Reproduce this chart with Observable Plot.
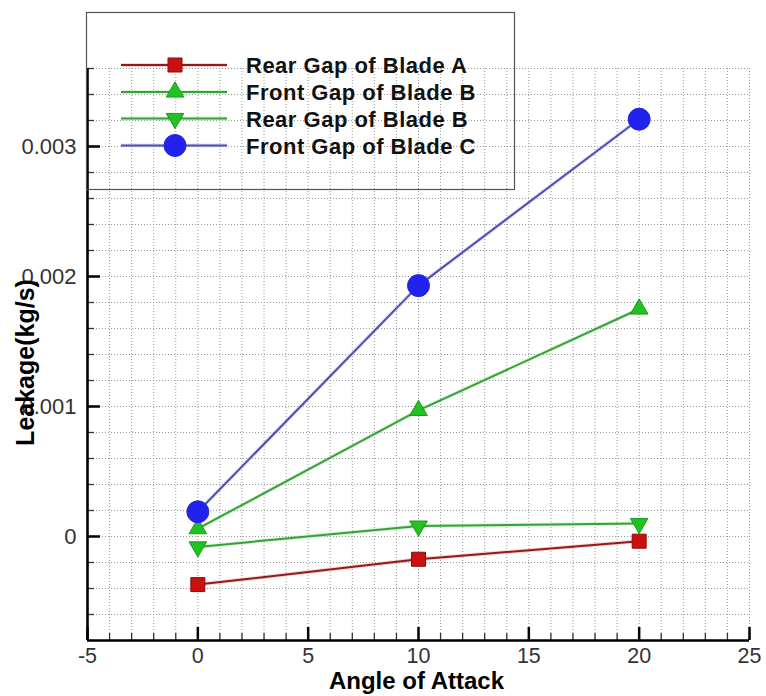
<!DOCTYPE html>
<html>
<head>
<meta charset="utf-8">
<script src="https://cdn.jsdelivr.net/npm/d3@7"></script>
<script src="https://cdn.jsdelivr.net/npm/@observablehq/plot@0.6"></script>
<style>
  html, body { margin: 0; padding: 0; background: #fff; }
  #chart svg { display: block; }
</style>
</head>
<body>
<div id="chart"></div>
<script>
// Leakage through the blade gaps versus angle of attack
const angles = [0, 10, 20];
const rearGapA = [-0.00037, -0.000175, -0.000036];
const frontGapB = [0.00006, 0.00097, 0.00175];
const rearGapB = [-0.00008, 0.00008, 0.0001];
const frontGapC = [0.00019, 0.00193, 0.00321];
const seriesNames = ["Rear Gap of Blade A", "Front Gap of Blade B", "Rear Gap of Blade B", "Front Gap of Blade C"];

const xTicks = [-5, 0, 5, 10, 15, 20, 25];
const xTickLabels = ["-5", "0", "5", "10", "15", "20", "25"];
const yTicks = [0, 0.001, 0.002, 0.003];
const yTickLabels = ["0", "0.001", "0.002", "0.003"];
const xTitle = "Angle of Attack";
const yTitle = "Leakage(kg/s)";

const xDomain = [-5, 25];
const yDomain = [-0.0008, 0.0036];
const xMinor = d3.range(-5, 26, 1);
const yMinor = d3.range(-8, 37, 2).map(v => v / 10000);

// Layout
const W = 766, H = 696;
const M = {top: 68, right: 17, bottom: 56, left: 87};
const plotW = W - M.left - M.right;
const plotH = H - M.top - M.bottom;

// Equilateral triangles, pointing up and down
const triUp = {
  draw(ctx, size) {
    const s = Math.sqrt(size) * 0.6824, t = s / 2, u = s * Math.sqrt(3) / 2;
    ctx.moveTo(0, -s); ctx.lineTo(u, t); ctx.lineTo(-u, t); ctx.closePath();
  }
};
const triDown = {
  draw(ctx, size) {
    const s = Math.sqrt(size) * 0.6824, t = s / 2, u = s * Math.sqrt(3) / 2;
    ctx.moveTo(0, s); ctx.lineTo(u, -t); ctx.lineTo(-u, -t); ctx.closePath();
  }
};

const seriesValues = [rearGapA, frontGapB, rearGapB, frontGapC];
const styles = [
  {line: "#931a1a", halo: "#e88", fill: "#cc1010", stroke: "#8a0c0c", symbol: d3.symbolSquare, plotSymbol: "square", r: 7.9},
  {line: "#3a9e3a", halo: "#8e8", fill: "#22c222", stroke: "#1d9a1d", symbol: triUp, plotSymbol: triUp, r: 8.4},
  {line: "#3a9e3a", halo: "#8e8", fill: "#22c222", stroke: "#1d9a1d", symbol: triDown, plotSymbol: triDown, r: 8.4},
  {line: "#4f4fa6", halo: "#aaf", fill: "#2222ee", stroke: "#2424e0", symbol: d3.symbolCircle, plotSymbol: "circle", r: 11}
];

const table = seriesValues.flatMap((vals, s) =>
  angles.map((a, i) => ({series: seriesNames[s], angle: a, value: vals[i]}))
);

const FONT = "'Liberation Sans', Arial, Helvetica, sans-serif";
const gridStyle = {stroke: "#9a9a9a", strokeOpacity: 1, strokeWidth: 1, strokeDasharray: "1,2"};

const seriesMarks = seriesNames.flatMap((name, s) => {
  const rows = table.filter(d => d.series === name);
  const st = styles[s];
  return [
    Plot.line(rows, {x: "angle", y: "value", stroke: st.halo, strokeWidth: 4, strokeOpacity: 0.35}),
    Plot.line(rows, {x: "angle", y: "value", stroke: st.line, strokeWidth: 2}),
    Plot.dot(rows, {x: "angle", y: "value", symbol: st.plotSymbol, r: st.r, fill: st.fill, stroke: st.stroke, strokeWidth: 1})
  ];
});

// Inward-pointing ticks: full-frame rules inset down to a short stub at the bottom/left edge
const inwardX = (ticks, size, width, color) =>
  Plot.ruleX(ticks, {x: d => d, insetTop: plotH - size, stroke: color, strokeWidth: width});
const inwardY = (ticks, size, width, color) =>
  Plot.ruleY(ticks, {y: d => d, insetRight: plotW - size, stroke: color, strokeWidth: width});

const chart = Plot.plot({
  width: W,
  height: H,
  marginLeft: M.left,
  marginRight: M.right,
  marginTop: M.top,
  marginBottom: M.bottom,
  style: {fontFamily: FONT, background: "#fff", color: "#000"},
  x: {domain: xDomain},
  y: {domain: yDomain},
  marks: [
    Plot.gridX(xMinor, gridStyle),
    Plot.gridY(yMinor, gridStyle),
    ...seriesMarks,
    inwardX(xMinor, 7, 1.3, "#333"),
    inwardY(yMinor, 7, 1.3, "#333"),
    inwardX(xTicks, 13, 2.5, "#000"),
    inwardY(yTicks, 13, 2.5, "#000"),
    // tick labels
    Plot.axisX(xTicks, {tickSize: 0, tickPadding: 7, fontSize: 21.5, fill: "#333", label: null,
      tickFormat: d => xTickLabels[xTicks.indexOf(d)]}),
    Plot.axisY(yTicks, {tickSize: 0, tickPadding: 11, fontSize: 22, fill: "#333", label: null,
      tickFormat: d => yTickLabels[yTicks.indexOf(d)]}),
    // axis lines
    Plot.ruleX([xDomain[0]], {stroke: "#000", strokeWidth: 2.6}),
    Plot.ruleY([yDomain[0]], {stroke: "#000", strokeWidth: 2.6}),
    // axis titles
    Plot.text([xTitle], {frameAnchor: "bottom", textAnchor: "middle", lineAnchor: "bottom", dy: 48.5, dx: -2,
      fontSize: 24, fontWeight: "bold", fill: "#000", style: "letter-spacing:1.3px"}),
    Plot.text([yTitle], {frameAnchor: "left", textAnchor: "middle", lineAnchor: "bottom", rotate: -90, dx: -54, dy: 8,
      fontSize: 25, fontWeight: "bold", fill: "#000", style: "letter-spacing:0.6px"})
  ]
});

document.getElementById("chart").appendChild(chart);

// Legend box in the upper left, overlapping the plot
const svg = d3.select(chart);
const legend = svg.append("g").attr("font-family", FONT).attr("text-anchor", "start");
legend.append("rect")
  .attr("x", 86.5).attr("y", 12.5).attr("width", 428).attr("height", 177)
  .attr("fill", "none").attr("stroke", "#555").attr("stroke-width", 1.2);
const rowY = [65, 92, 118.5, 145.5];
seriesNames.forEach((name, s) => {
  const st = styles[s];
  const y = rowY[s];
  legend.append("line").attr("x1", 121).attr("x2", 227).attr("y1", y).attr("y2", y)
    .attr("stroke", st.halo).attr("stroke-width", 4).attr("stroke-opacity", 0.35);
  legend.append("line").attr("x1", 121).attr("x2", 227).attr("y1", y).attr("y2", y)
    .attr("stroke", st.line).attr("stroke-width", 2);
  legend.append("path")
    .attr("d", d3.symbol().type(st.symbol).size(Math.PI * st.r * st.r)())
    .attr("transform", `translate(175,${y})`)
    .attr("fill", st.fill).attr("stroke", st.stroke).attr("stroke-width", 1);
  legend.append("text").attr("x", 246).attr("y", y + 8)
    .attr("font-size", 22).attr("font-weight", "bold").attr("letter-spacing", "0.5px")
    .attr("text-anchor", "start")
    .attr("fill", "#111").text(name);
});
</script>
</body>
</html>
